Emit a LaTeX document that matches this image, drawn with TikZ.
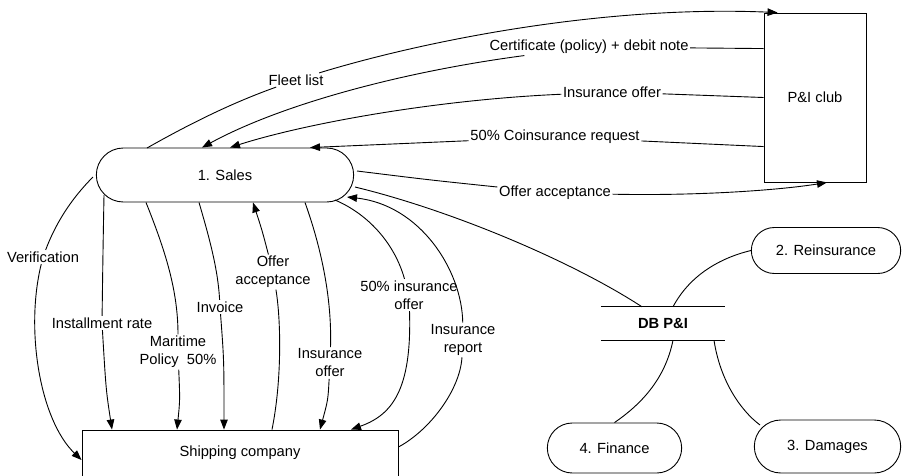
\documentclass[tikz,border=0pt]{standalone}
\usepackage{fontspec}
\setmainfont{Liberation Sans}
\usetikzlibrary{arrows.meta,shapes.misc,calc}
\begin{document}
\begin{tikzpicture}[x=1pt,y=-1pt,
  every node/.style={font=\fontsize{14.7}{18}\selectfont, text=black},
  proc/.style={draw, rounded rectangle, line width=0.9pt},
  box/.style={draw, rectangle, line width=0.9pt},
  lbl/.style={inner sep=1.5pt, align=center},
  flow/.style={line width=0.9pt},
  arr/.style={flow, -{Triangle[length=10pt,width=7.5pt]}}]
\useasboundingbox (0,0) rectangle (905,475);
\clip (0,0) rectangle (905,475);

% main nodes
\node[proc, minimum width=264pt, minimum height=54pt] (sales) at (225,175) {1. Sales};
\node[box, minimum width=102pt, minimum height=169pt] (pi) at (815,97.5) {P\&I club};
\node[box, minimum width=316pt, minimum height=46pt] (ship) at (240,453) {Shipping company};
\node[minimum width=124pt, minimum height=33pt, font=\fontsize{14.7}{18}\selectfont\bfseries] (db) at (663,323.5) {DB P\&I};
\node[proc, minimum width=156pt, minimum height=46pt] (reins) at (826,250.5) {2. Reinsurance};
\node[proc, minimum width=141pt, minimum height=50pt] (fin) at (614.5,448) {4. Finance};
\node[proc, minimum width=153pt, minimum height=53pt] (dam) at (827.5,446.5) {3. Damages};

% labels
\node[lbl] (fleetl) at (296,80) {Fleet list};
\node[lbl] (certl) at (589,47) {Certificate (policy) + debit note};
\node[lbl] (iol) at (612,92) {Insurance offer};
\node[lbl] (coinsl) at (555,137) {50\% Coinsurance request};
\node[lbl] (oal) at (555,193) {Offer acceptance};
\node[lbl] (irl) at (463,340) {Insurance\\report};
\node[lbl] (l50) at (409,295) {50\% insurance\\offer};
\node[lbl] (iol2) at (330,363) {Insurance\\offer};
\node[lbl] (oa2l) at (273,272) {Offer\\acceptance};
\node[lbl] (invl) at (220,307) {Invoice};
\node[lbl] (mpl) at (178,352) {Maritime\\Policy~~50\%};
\node[lbl] (instl) at (102,323) {Installment rate};
\node[lbl] (verl) at (43,257) {Verification};

% connectors Sales <-> P&I club
\draw[arr] ($(sales.center)+(-78,-27)$) .. controls (200,118) and (240,100) .. (fleetl) .. controls (420,42) and (600,5) .. ($(pi.north west)+(14,0)$);
\draw[flow] ($(pi.north west)+(0,36)$) -- (certl);
\draw[arr] (certl) .. controls (400,72) and (280,105) .. ($(sales.north)+(-23,0)$);
\draw[flow] (pi.west) -- (iol);
\draw[arr] (iol) .. controls (430,100) and (300,125) .. ($(sales.north)+(5,0)$);
\draw[flow] ($(pi.north west)+(0,134)$) -- (coinsl);
\draw[arr] (coinsl) -- ($(sales.north)+(85,0)$);
\draw[arr] ($(sales.center)+(132,-4)$) .. controls (430,180) .. (oal) .. controls (700,196) and (780,190) .. ($(pi.south)+(12,0)$);

% Sales -> DB
\draw[flow] ($(sales.center)+(130,12)$) .. controls (450,210) and (570,260) .. ($(db.north)+(-21,0)$);

% Sales <-> Shipping company
\draw[arr] ($(ship.east)+(0,-6)$) .. controls (430,430) and (460,390) .. (irl) .. controls (462,270) and (420,205) .. ($(sales.center)+(122,22)$);
\draw[arr] ($(sales.center)+(110,25)$) .. controls (370,215) and (395,245) .. (l50) .. controls (412,390) and (392,415) .. ($(ship.north)+(111,0)$);
\draw[arr] ($(sales.south)+(80,0)$) .. controls (322,250) and (332,300) .. (iol2) .. controls (328,400) .. ($(ship.north)+(80,0)$);
\draw[arr] ($(ship.north)+(32,0)$) .. controls (282,380) and (281,320) .. (oa2l) .. controls (262,230) .. ($(sales.south)+(28,0)$);
\draw[arr] ($(sales.south)+(-26,0)$) .. controls (210,240) and (218,270) .. (invl) .. controls (224,360) .. ($(ship.north)+(-16,0)$);
\draw[arr] ($(sales.south)+(-79,0)$) .. controls (165,250) and (178,290) .. (mpl) .. controls (180,400) .. ($(ship.north)+(-63,0)$);
\draw[arr] ($(sales.center)+(-121,20)$) .. controls (103,250) .. (instl) .. controls (106,390) .. ($(ship.north)+(-128,0)$);
\draw[arr] ($(sales.center)+(-132,2)$) .. controls (70,200) and (55,225) .. (verl) .. controls (25,330) and (40,420) .. ($(ship.west)+(0,7)$);

% DB store
\draw[flow] (db.north west) -- (db.north east);
\draw[flow] (db.south west) -- (db.south east);
\draw[flow] ($(db.north)+(10,0)$) .. controls (690,275) and (720,258) .. (reins.west);
\draw[flow] ($(db.south)+(10,0)$) .. controls (665,380) and (640,405) .. (fin.north);
\draw[flow] ($(db.south)+(51,0)$) .. controls (720,380) and (740,410) .. ($(dam.center)+(-67.5,-21.5)$);
\end{tikzpicture}
\end{document}
